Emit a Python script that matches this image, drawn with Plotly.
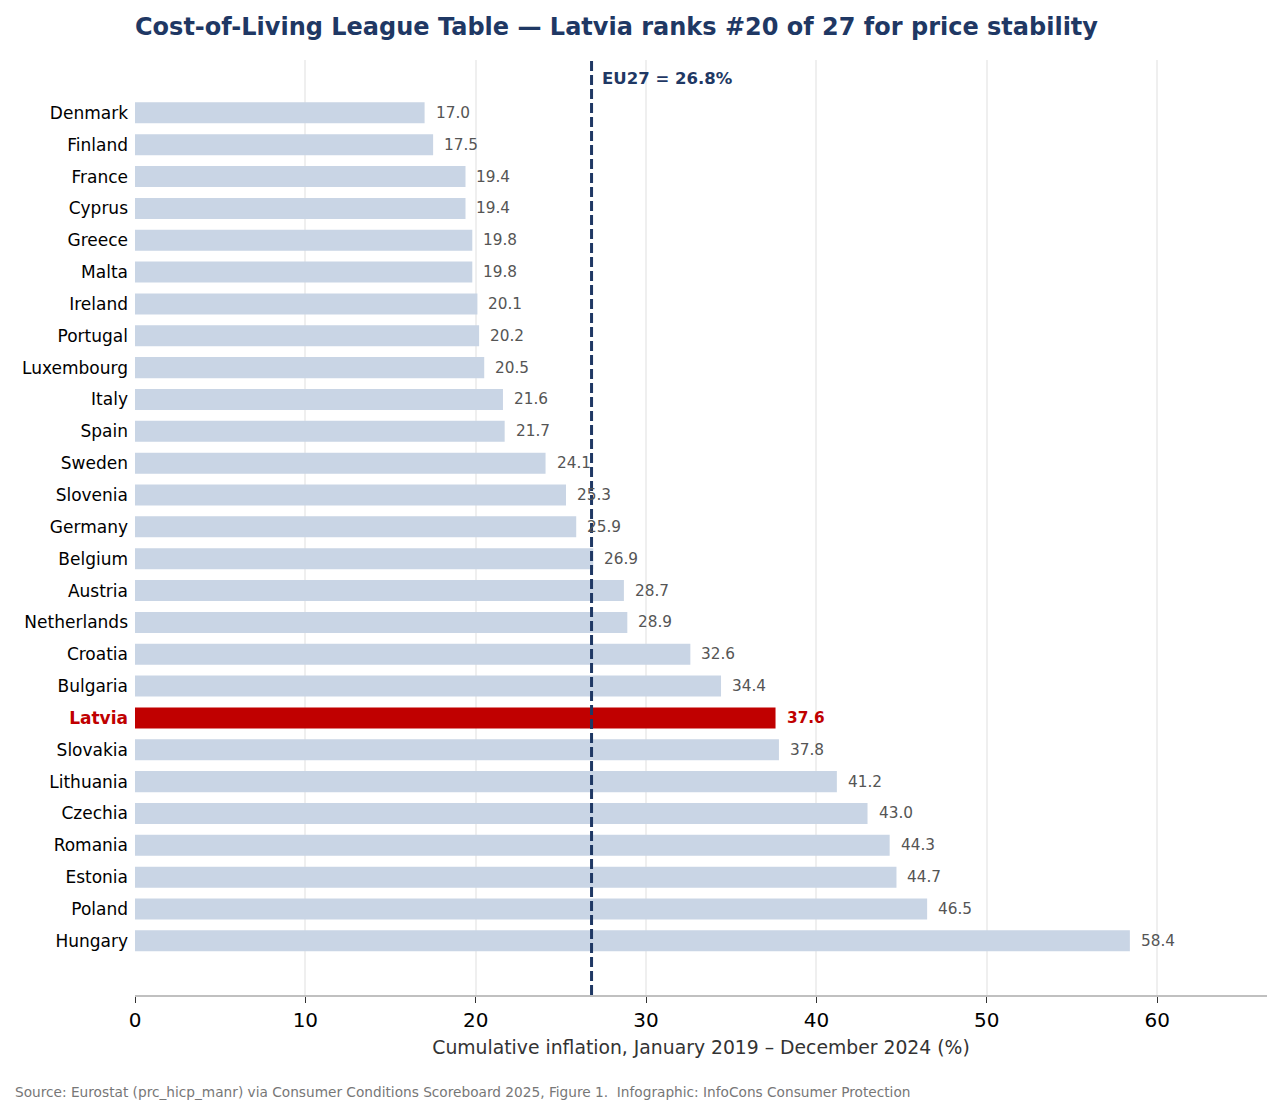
import plotly.graph_objects as go

# data, ranked from lowest to highest cumulative inflation
countries = [
    "Denmark", "Finland", "France", "Cyprus", "Greece", "Malta", "Ireland",
    "Portugal", "Luxembourg", "Italy", "Spain", "Sweden", "Slovenia", "Germany",
    "Belgium", "Austria", "Netherlands", "Croatia", "Bulgaria", "Latvia",
    "Slovakia", "Lithuania", "Czechia", "Romania", "Estonia", "Poland", "Hungary",
]
inflation = [
    17.0, 17.5, 19.4, 19.4, 19.8, 19.8, 20.1, 20.2, 20.5, 21.6, 21.7, 24.1,
    25.3, 25.9, 26.9, 28.7, 28.9, 32.6, 34.4, 37.6, 37.8, 41.2, 43.0, 44.3,
    44.7, 46.5, 58.4,
]
eu27 = 26.8
highlight = "Latvia"
x_ticks = [0, 10, 20, 30, 40, 50, 60]

FONT = "DejaVu Sans"
NAVY = "#1f3864"
RED = "#c00000"
BAR = "#c9d5e5"

# page has an 8px body margin, so the figure is sized to fit inside it
W, H = 1274, 1107
ML, MR, MT, MB = 127, 15, 52, 120
PW, PH = W - ML - MR, H - MT - MB

bar_colors = [RED if c == highlight else BAR for c in countries]
tick_text = [
    f"<b><span style='color:{RED}'>{c}</span></b>" if c == highlight else c
    for c in countries
]

fig = go.Figure()
fig.add_trace(
    go.Bar(
        x=inflation,
        y=countries,
        orientation="h",
        width=0.66,
        marker_color=bar_colors,
        marker_line_width=0,
        hoverinfo="skip",
    )
)

# value labels next to each bar
for c, v in zip(countries, inflation):
    is_hl = c == highlight
    fig.add_annotation(
        x=v,
        y=c,
        text=f"<b>{v:.1f}</b>" if is_hl else f"{v:.1f}",
        showarrow=False,
        xanchor="left",
        xshift=9,
        font=dict(family=FONT, size=15.3, color=RED if is_hl else "#555555"),
    )

# EU27 average line
fig.add_shape(
    type="line",
    x0=eu27, x1=eu27, xref="x",
    y0=0, y1=1, yref="paper",
    line=dict(color=NAVY, width=3, dash="10px,4px"),
)
fig.add_annotation(
    x=eu27, xref="x", y=-1.08, yref="y",
    text=f"<b>EU27 = {eu27}%</b>",
    showarrow=False, xanchor="left", xshift=8,
    font=dict(family=FONT, size=16.5, color=NAVY),
)

fig.add_annotation(
    x=(5 - ML) / PW, xref="paper", xanchor="left",
    y=-(1084 - (H - MB)) / PH, yref="paper", yanchor="middle",
    text="Source: Eurostat (prc_hicp_manr) via Consumer Conditions Scoreboard 2025, Figure 1.  "
         "Infographic: InfoCons Consumer Protection",
    showarrow=False,
    font=dict(family=FONT, size=13.7, color="#777777"),
)

fig.update_layout(
    width=W,
    height=H,
    margin=dict(l=ML, r=MR, t=MT, b=MB, autoexpand=False),
    paper_bgcolor="white",
    plot_bgcolor="white",
    showlegend=False,
    title=dict(
        text="<b>Cost-of-Living League Table — Latvia ranks #20 of 27 for price stability</b>",
        x=ML / W, xanchor="left",
        y=1 - 19 / H, yanchor="middle",
        font=dict(family=FONT, size=24, color=NAVY),
    ),
    xaxis=dict(
        range=[0, 66.45],
        tickvals=x_ticks,
        ticks="outside",
        ticklen=6,
        tickcolor="#333333",
        tickfont=dict(family=FONT, size=20, color="black"),
        showgrid=True,
        gridcolor="#efefef",
        gridwidth=2,
        zeroline=False,
        showline=True,
        linecolor="#c0c0c0",
        linewidth=2,
        title=dict(
            text="Cumulative inflation, January 2019 – December 2024 (%)",
            font=dict(family=FONT, size=18.8, color="#333333"),
            standoff=10,
        ),
    ),
    yaxis=dict(
        categoryorder="array",
        categoryarray=countries,
        tickvals=countries,
        ticktext=tick_text,
        range=[27.7, -1.66],
        showgrid=False,
        zeroline=False,
        showline=False,
        ticks="",
        ticklabelstandoff=6,
        tickfont=dict(family=FONT, size=17, color="black"),
    ),
)

fig.write_html("out.html")
